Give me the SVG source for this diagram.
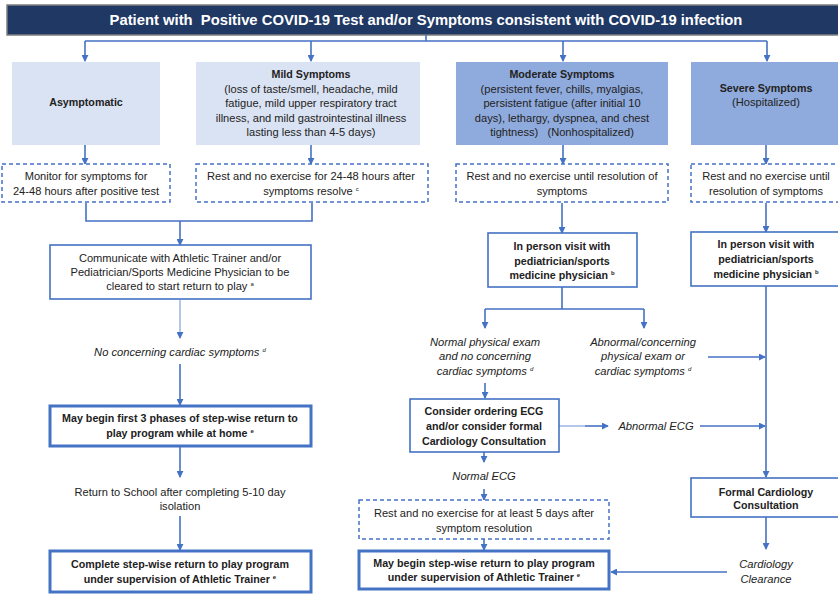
<svg xmlns="http://www.w3.org/2000/svg" width="838" height="596" viewBox="0 0 838 596">
<defs>
<marker id="ah" viewBox="0 0 8 8" refX="7" refY="4" markerWidth="7" markerHeight="7" markerUnits="userSpaceOnUse" orient="auto">
<path d="M0,0 L8,4 L0,8 Z" fill="#4472c4"/>
</marker>
<style>
text{font-family:"Liberation Sans",Arial,sans-serif;fill:#222;text-anchor:middle;white-space:pre}
.t{font-size:11.1px}
.b{font-size:10.7px;font-weight:bold}
.i{font-size:11.2px;font-style:italic}
.lt{fill:#dae3f3;stroke:none}
.md{fill:#8faadc;stroke:none}
.dash{fill:#fff;stroke:#4472c4;stroke-width:1.5;stroke-dasharray:4 3}
.box{fill:#fff;stroke:#4472c4;stroke-width:1.6}
.thick{fill:#fff;stroke:#4472c4;stroke-width:3}
.c{fill:none;stroke:#4472c4;stroke-width:1.6}
.cl{fill:none;stroke:#a4b8e2;stroke-width:1.6}
.a{marker-end:url(#ah)}
</style>
</defs>
<rect width="838" height="596" fill="#fff"/>

<g id="title">
<rect x="7" y="5" width="836" height="30" fill="#1f3864" stroke="#7f7f7f" stroke-width="1.5"/>
<text x="426" y="25" xml:space="preserve" style="font-size:14.8px;font-weight:bold;fill:#fff">Patient with  Positive COVID-19 Test and/or Symptoms consistent with COVID-19 infection</text>
</g>

<g id="connectors">
<path class="c" d="M426 35 V41 M85 41 H767"/>
<path class="c a" d="M85 41 V61"/>
<path class="c a" d="M311 41 V61"/>
<path class="c a" d="M563 41 V61"/>
<path class="c a" d="M767 41 V61"/>
<path class="c a" d="M85 145 V164"/>
<path class="c a" d="M311 145 V164"/>
<path class="c a" d="M563 145 V164"/>
<path class="c a" d="M766 145 V164"/>
<path class="c" d="M86 203 V221 H312 V203"/>
<path class="c a" d="M180 221 V245"/>
<path class="cl a" d="M180 300 V338"/>
<path class="c a" d="M180 364 V405"/>
<path class="c a" d="M180 447 V477"/>
<path class="c a" d="M180 516 V550"/>
<path class="c a" d="M562 203 V233"/>
<path class="c" d="M562 287 V309 M485 309 H644"/>
<path class="c a" d="M485 309 V328"/>
<path class="c a" d="M644 309 V328"/>
<path class="c a" d="M708 357 H765"/>
<path class="c a" d="M485 383 V398"/>
<path class="cl" d="M559 426 H585"/>
<path class="c a" d="M585 426 H608"/>
<path class="c a" d="M700 426 H765"/>
<path class="c a" d="M484 452 V462"/>
<path class="c a" d="M484 489 V500"/>
<path class="c a" d="M484 539 V550"/>
<path class="c a" d="M766 203 V232"/>
<path class="c a" d="M766 286 V477"/>
<path class="c a" d="M766 517 V549"/>
<path class="c a" d="M727 572 H611"/>
</g>

<g id="asymptomatic">
<rect class="lt" x="12" y="62" width="148" height="83"/>
<text class="b" x="86" y="106">Asymptomatic</text>
</g>

<g id="mild">
<rect class="lt" x="196" y="62" width="224" height="83"/>
<text class="b" x="311" y="78">Mild Symptoms</text>
<text class="t" x="311" y="93">(loss of taste/smell, headache, mild</text>
<text class="t" x="311" y="107">fatigue, mild upper respiratory tract</text>
<text class="t" x="311" y="122">illness, and mild gastrointestinal illness</text>
<text class="t" x="311" y="136">lasting less than 4-5 days)</text>
</g>

<g id="moderate">
<rect class="md" x="456" y="62" width="212" height="83"/>
<text class="b" x="562" y="78">Moderate Symptoms</text>
<text class="t" x="562" y="93">(persistent fever, chills, myalgias,</text>
<text class="t" x="562" y="107">persistent fatigue (after initial 10</text>
<text class="t" x="562" y="122">days), lethargy, dyspnea, and chest</text>
<text class="t" x="562" y="136" xml:space="preserve">tightness)   (Nonhospitalized)</text>
</g>

<g id="severe">
<rect class="md" x="691" y="62" width="147" height="83"/>
<text class="b" x="766" y="92">Severe Symptoms</text>
<text class="t" x="766" y="106">(Hospitalized)</text>
</g>

<g id="monitor">
<rect class="dash" x="2" y="164" width="168" height="38"/>
<text class="t" x="86" y="180">Monitor for symptoms for</text>
<text class="t" x="86" y="195">24-48 hours after positive test</text>
</g>

<g id="rest-mild">
<rect class="dash" x="196" y="164" width="232" height="38"/>
<text class="t" x="311" y="180">Rest and no exercise for 24-48 hours after</text>
<text class="t" x="311" y="195">symptoms resolve <tspan font-size="6" dy="-4">c</tspan></text>
</g>

<g id="rest-moderate">
<rect class="dash" x="456" y="164" width="212" height="38"/>
<text class="t" x="562" y="180">Rest and no exercise until resolution of</text>
<text class="t" x="562" y="195">symptoms</text>
</g>

<g id="rest-severe">
<rect class="dash" x="691" y="164" width="150" height="38"/>
<text class="t" x="766" y="180">Rest and no exercise until</text>
<text class="t" x="766" y="195">resolution of symptoms</text>
</g>

<g id="communicate">
<rect class="box" x="50" y="245" width="261" height="54"/>
<text class="t" x="180" y="262">Communicate with Athletic Trainer and/or</text>
<text class="t" x="180" y="276">Pediatrician/Sports Medicine Physician to be</text>
<text class="t" x="180" y="290">cleared to start return to play <tspan font-size="6" dy="-4">a</tspan></text>
</g>

<g id="no-concerning">
<text class="i" x="180" y="356">No concerning cardiac symptoms <tspan font-size="6" dy="-4">d</tspan></text>
</g>

<g id="first-phases">
<rect class="thick" x="50" y="406" width="261" height="40"/>
<text class="b" x="180" y="422">May begin first 3 phases of step-wise return to</text>
<text class="b" x="180" y="437">play program while at home <tspan font-size="6" dy="-4">e</tspan></text>
</g>

<g id="return-school">
<text class="t" x="180" y="496">Return to School after completing 5-10 day</text>
<text class="t" x="180" y="510">isolation</text>
</g>

<g id="complete">
<rect class="thick" x="50" y="551" width="261" height="41"/>
<text class="b" x="180" y="568">Complete step-wise return to play program</text>
<text class="b" x="180" y="583">under supervision of Athletic Trainer <tspan font-size="6" dy="-4">e</tspan></text>
</g>

<g id="inperson-moderate">
<rect class="box" x="488" y="233" width="149" height="54"/>
<text class="b" x="562" y="250">In person visit with</text>
<text class="b" x="562" y="265">pediatrician/sports</text>
<text class="b" x="562" y="279">medicine physician <tspan font-size="6" dy="-4">b</tspan></text>
</g>

<g id="normal-exam">
<text class="i" x="485" y="346">Normal physical exam</text>
<text class="i" x="485" y="360">and no concerning</text>
<text class="i" x="485" y="375">cardiac symptoms <tspan font-size="6" dy="-4">d</tspan></text>
</g>

<g id="abnormal-exam">
<text class="i" x="643" y="346">Abnormal/concerning</text>
<text class="i" x="643" y="360">physical exam or</text>
<text class="i" x="643" y="375">cardiac symptoms <tspan font-size="6" dy="-4">d</tspan></text>
</g>

<g id="consider-ecg">
<rect class="box" x="410" y="399" width="149" height="53"/>
<text class="b" x="484" y="415">Consider ordering ECG</text>
<text class="b" x="484" y="430">and/or consider formal</text>
<text class="b" x="484" y="445">Cardiology Consultation</text>
</g>

<g id="abnormal-ecg">
<text class="i" x="656" y="430">Abnormal ECG</text>
</g>

<g id="normal-ecg">
<text class="i" x="484" y="480">Normal ECG</text>
</g>

<g id="rest-5days">
<rect class="dash" x="359" y="500" width="250" height="39"/>
<text class="t" x="484" y="517">Rest and no exercise for at least 5 days after</text>
<text class="t" x="484" y="532">symptom resolution</text>
</g>

<g id="may-begin">
<rect class="thick" x="359" y="551" width="250" height="38"/>
<text class="b" x="484" y="567">May begin step-wise return to play program</text>
<text class="b" x="484" y="581">under supervision of Athletic Trainer <tspan font-size="6" dy="-4">e</tspan></text>
</g>

<g id="inperson-severe">
<rect class="box" x="691" y="232" width="150" height="54"/>
<text class="b" x="766" y="248">In person visit with</text>
<text class="b" x="766" y="263">pediatrician/sports</text>
<text class="b" x="766" y="278">medicine physician <tspan font-size="6" dy="-4">b</tspan></text>
</g>

<g id="formal-cardiology">
<rect class="box" x="691" y="478" width="150" height="39"/>
<text class="b" x="766" y="496">Formal Cardiology</text>
<text class="b" x="766" y="509">Consultation</text>
</g>

<g id="clearance">
<text class="i" x="766" y="568">Cardiology</text>
<text class="i" x="766" y="583">Clearance</text>
</g>
</svg>
